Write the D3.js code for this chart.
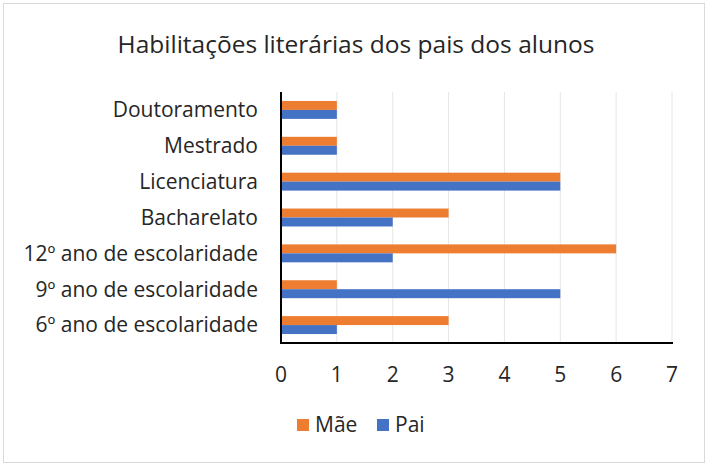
<html>
<head>
<script src="https://d3js.org/d3.v7.min.js"></script>
<style>
  body { margin: 0; background: #fff; }
  text { font-family: "Open Sans", sans-serif; fill: #262626; }
</style>
</head>
<body>
<svg width="708" height="466"></svg>
<script>
var categories = ['Doutoramento', 'Mestrado', 'Licenciatura', 'Bacharelato',
  '12º ano de escolaridade', '9º ano de escolaridade', '6º ano de escolaridade'];
var seriesNames = ['Mãe', 'Pai'];
var mae = [1, 1, 5, 3, 6, 1, 3];
var pai = [1, 1, 5, 2, 2, 5, 1];
var xTicks = [0, 1, 2, 3, 4, 5, 6, 7];
var colors = ['#ED7D31', '#4472C4'];

var svg = d3.select('svg');

// outer border
svg.append('rect')
  .attr('x', 3.5).attr('y', 3.5)
  .attr('width', 701).attr('height', 459)
  .attr('fill', '#fff')
  .attr('stroke', '#d9d9d9');

svg.append('text')
  .attr('x', 356).attr('y', 53)
  .attr('text-anchor', 'middle')
  .style('font-size', '24.5px')
  .text('Habilitações literárias dos pais dos alunos');

var x = d3.scaleLinear().domain([0, 7]).range([281, 672]);
var y = d3.scaleBand().domain(categories).range([92, 343]).paddingInner(0.5).paddingOuter(0.25);
var sub = d3.scaleBand().domain(seriesNames).range([0, y.bandwidth()]);

// gridlines
svg.append('g').selectAll('line')
  .data(xTicks.slice(1))
  .enter().append('line')
  .attr('x1', d => x(d)).attr('x2', d => x(d))
  .attr('y1', 92).attr('y2', 343)
  .attr('stroke', '#e6e6e6').attr('stroke-width', 1);

var rows = categories.map((c, i) => ({ cat: c, vals: [mae[i], pai[i]] }));
var groups = svg.append('g').selectAll('g')
  .data(rows)
  .enter().append('g')
  .attr('transform', d => 'translate(0,' + y(d.cat) + ')');
groups.selectAll('rect')
  .data(d => d.vals.map((v, j) => ({ name: seriesNames[j], v: v, j: j })))
  .enter().append('rect')
  .attr('x', x(0))
  .attr('y', d => sub(d.name))
  .attr('width', d => x(d.v) - x(0))
  .attr('height', sub.bandwidth())
  .attr('fill', d => colors[d.j]);

// category labels
svg.append('g').selectAll('text')
  .data(categories)
  .enter().append('text')
  .attr('x', 258)
  .attr('y', d => y(d) + y.bandwidth() / 2)
  .attr('dy', '0.35em')
  .attr('text-anchor', 'end')
  .style('font-size', '21px')
  .text(d => d);

// axes lines
svg.append('line')
  .attr('x1', 281).attr('x2', 281).attr('y1', 92).attr('y2', 343)
  .attr('stroke', '#000').attr('stroke-width', 2);
svg.append('line')
  .attr('x1', 280).attr('x2', 673).attr('y1', 343).attr('y2', 343)
  .attr('stroke', '#000').attr('stroke-width', 2);

// x tick labels
svg.append('g').selectAll('text')
  .data(xTicks)
  .enter().append('text')
  .attr('x', d => x(d))
  .attr('y', 375)
  .attr('dy', '0.35em')
  .attr('text-anchor', 'middle')
  .style('font-size', '21px')
  .text(d => d);

// legend
var legendX = [297, 377];
var legend = svg.append('g').selectAll('g')
  .data(seriesNames)
  .enter().append('g')
  .attr('transform', (d, i) => 'translate(' + legendX[i] + ',425)');
legend.append('rect')
  .attr('x', 0).attr('y', -6)
  .attr('width', 12).attr('height', 12)
  .attr('fill', (d, i) => colors[i]);
legend.append('text')
  .attr('x', 18).attr('y', 0)
  .attr('dy', '0.35em')
  .style('font-size', '21px')
  .text(d => d);
</script>
</body>
</html>
